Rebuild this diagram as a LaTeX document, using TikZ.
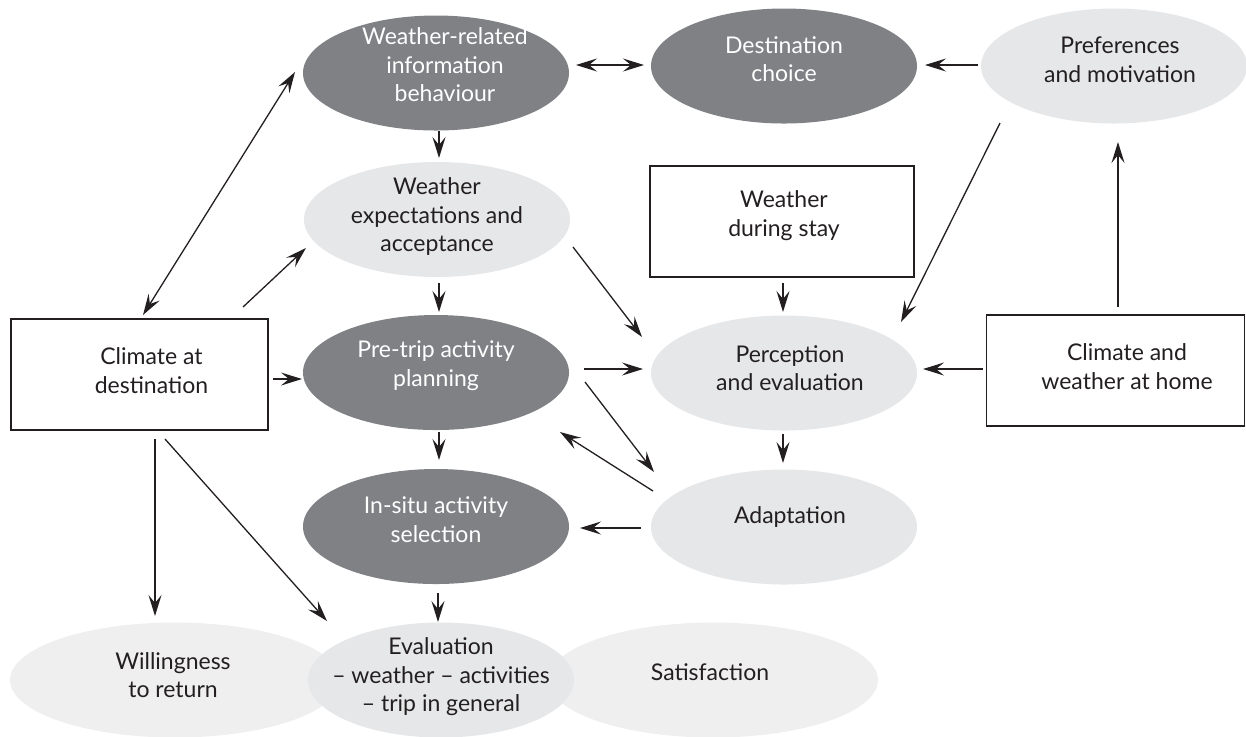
\documentclass[tikz,border=0pt]{standalone}
\usepackage{fontspec}
\setmainfont{Lato}
\usetikzlibrary{shapes.geometric,arrows.meta,calc}
\definecolor{dgray}{HTML}{808185}
\definecolor{lgray}{HTML}{E6E7E8}
\definecolor{llgray}{HTML}{EFEFF0}
\definecolor{ink}{HTML}{231F20}
\begin{document}
\begin{tikzpicture}[x=0.5pt,y=-0.5pt,
 >={Stealth[length=10.5pt,width=6.5pt,inset=4pt]},
 ell/.style={ellipse, inner sep=0pt, minimum width=133pt, minimum height=57.5pt},
 darkell/.style={ell, fill=dgray},
 lightell/.style={ell, fill=lgray},
 paleell/.style={ell, fill=llgray, minimum width=165pt},
 boxnode/.style={rectangle, draw=ink, line width=0.6pt, inner sep=0pt, minimum height=55.5pt},
 txt/.style={align=center, font=\fontsize{11.5}{14.3}\selectfont, inner sep=0pt},
 wtxt/.style={txt, text=white},
 btxt/.style={txt, text=ink},
 arr/.style={draw=ink, line width=0.65pt, ->},
 darr/.style={draw=ink, line width=0.65pt, <->}
]
\useasboundingbox (0,0) rectangle (1246,736);

% top row
\node[darkell, label={[wtxt,xshift=4.5pt,yshift=4pt]center:Weather-related\\information\\behaviour}] (wri) at (436,73) {};
\node[darkell, label={[wtxt,yshift=3.5pt]center:Destination\\choice}] (dc) at (784,66) {};
\node[lightell, label={[btxt,xshift=3pt,yshift=3pt]center:Preferences\\and motivation}] (pm) at (1114,66) {};

% second row
\node[lightell, label={[btxt,yshift=1.5pt]center:Weather\\expectations and\\acceptance}] (wea) at (437,219.5) {};
\node[boxnode, minimum width=132pt, label={[btxt,xshift=1pt,yshift=3pt]center:Weather\\during stay}] (wds) at (782,221.5) {};

% third row
\node[boxnode, minimum width=128.5pt, label={[btxt,xshift=6pt,yshift=2pt]center:Climate at\\destination}] (clim) at (139.5,374.5) {};
\node[darkell, label={[wtxt,yshift=3.5pt]center:Pre-trip activity\\planning}] (ptp) at (436,372.5) {};
\node[lightell, label={[btxt,xshift=3pt,yshift=2.5pt]center:Perception\\and evaluation}] (pe) at (784,373) {};
\node[boxnode, minimum width=129pt, label={[btxt,xshift=5.75pt,yshift=2pt]center:Climate and\\weather at home}] (cwh) at (1115.5,370.5) {};

% fourth row
\node[darkell, label={[wtxt,yshift=3.5pt]center:In-situ activity\\selection}] (isa) at (436,526.5) {};
\node[lightell, label={[btxt,xshift=3pt,yshift=5pt]center:Adaptation}] (ad) at (784,527) {};

% bottom row
\node[paleell, label={[btxt,xshift=-1pt,yshift=2.5pt]center:Willingness\\to return}] (wtr) at (175,680) {};
\node[paleell, label={[btxt,xshift=-1.5pt,yshift=4pt]center:Satisfaction}] (sat) at (713,680) {};
\node[lightell, label={[btxt,yshift=1.5pt]center:Evaluation\\– weather – activities\\– trip in general}] (ev) at (441,680) {};

% connectors
\draw[darr] ($(clim)+(3.5,-59.5)$) -- ($(wri)+(-141,-1)$);
\draw[arr] ($(clim)+(103.5,-67.5)$) -- ($(wea)+(-131,28.5)$);
\draw[arr] ($(clim)+(133.5,4.5)$) -- ($(ptp)+(-134,6.5)$);
\draw[arr] ($(clim)+(15.5,64.5)$) -- ($(wtr)+(-20,-64)$);
\draw[arr] ($(clim)+(25.5,64.5)$) -- ($(ev)+(-114,-59)$);
\draw[arr] ($(wri)+(3,58)$) -- ($(wea)+(2,-61.5)$);
\draw[darr] ($(wri)+(140,-8)$) -- ($(dc)+(-140,-1)$);
\draw[arr] ($(pm)+(-136,-1)$) -- ($(dc)+(141,-1)$);
\draw[arr] ($(cwh)+(2.5,-63.5)$) -- ($(pm)+(4,76)$);
\draw[arr] ($(pm)+(-114,57)$) -- ($(pe)+(117,-51)$);
\draw[arr] ($(wea)+(136,27.5)$) -- ($(pe)+(-142,-36)$);
\draw[arr] ($(wds)+(1,61.5)$) -- ($(pe)+(-1,-61)$);
\draw[arr] ($(wea)+(2,63.5)$) -- ($(ptp)+(3,-60.5)$);
\draw[arr] ($(ptp)+(148,-3.5)$) -- ($(pe)+(-141,-4)$);
\draw[arr] ($(ptp)+(149,9.5)$) -- ($(ad)+(-130,-55)$);
\draw[arr] ($(ad)+(-131,-36)$) -- ($(ptp)+(124,59.5)$);
\draw[arr] ($(cwh)+(-132.5,-1.5)$) -- ($(pe)+(139,-4)$);
\draw[arr] ($(pe)+(-1,61)$) -- ($(ad)+(-1,-64)$);
\draw[arr] ($(ptp)+(3,59.5)$) -- ($(isa)+(3,-66.5)$);
\draw[arr] ($(ad)+(-143,1)$) -- ($(isa)+(144,1.5)$);
\draw[arr] ($(isa)+(2,66.5)$) -- ($(ev)+(-3,-58)$);
\end{tikzpicture}
\end{document}
